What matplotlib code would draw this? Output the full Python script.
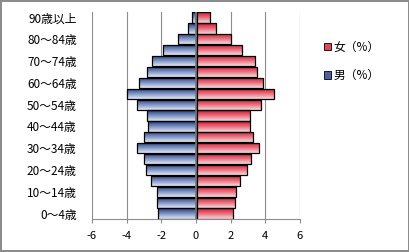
import numpy as np
import matplotlib
matplotlib.use("Agg")
import matplotlib.pyplot as plt
from matplotlib.colors import LinearSegmentedColormap
from matplotlib.patches import Patch

plt.rcParams["font.family"] = ["Noto Sans CJK JP", "DejaVu Sans"]

# age groups, bottom to top
ages = ["0～4歳", "5～9歳", "10～14歳", "15～19歳", "20～24歳", "25～29歳",
        "30～34歳", "35～39歳", "40～44歳", "45～49歳", "50～54歳", "55～59歳",
        "60～64歳", "65～69歳", "70～74歳", "75～79歳", "80～84歳", "85～89歳",
        "90歳以上"]
male = [-2.17, -2.27, -2.27, -2.58, -2.90, -2.98, -3.38, -2.98, -2.75, -2.85,
        -3.38, -3.98, -3.27, -2.85, -2.52, -1.88, -1.02, -0.44, -0.21]
female = [2.10, 2.21, 2.27, 2.50, 2.90, 3.13, 3.60, 3.25, 3.08, 3.08,
          3.73, 4.46, 3.83, 3.50, 3.37, 2.62, 1.98, 1.12, 0.77]
xticks = [-6, -4, -2, 0, 2, 4, 6]

blue_cm = LinearSegmentedColormap.from_list("b", ["#e4e9f3", "#7d93c2", "#1f3a7c"])
red_cm = LinearSegmentedColormap.from_list("r", ["#f3dde1", "#e8707e", "#d8132e"])

fig = plt.figure(figsize=(4.10, 2.52), dpi=100)
fig.patch.set_edgecolor("#8c8c8c")
fig.patch.set_linewidth(1.5)
ax = fig.add_axes([0.2244, 0.131, 0.5073, 0.821])

y = np.arange(len(ages))
grad = np.linspace(0, 1, 64).reshape(-1, 1)


def gradient_bars(vals, cmap, offset):
    bars = ax.barh(y, vals, height=0.94, left=offset, color="none",
                   edgecolor="black", linewidth=0.9, zorder=3)
    for b in bars:
        x0, y0 = b.get_x(), b.get_y()
        w, h = b.get_width(), b.get_height()
        im = ax.imshow(grad, cmap=cmap, aspect="auto", origin="lower",
                       extent=(x0, x0 + w, y0, y0 + h), zorder=2,
                       interpolation="bilinear")
        im.set_clip_path(b)
    return bars


gradient_bars(male, blue_cm, 0)
gradient_bars(female, red_cm, 0.04)

ax.set_xlim(-6, 6)
ax.set_ylim(-0.5, len(ages) - 0.5)
ax.set_xticks(xticks)
ax.set_xticklabels([str(t) for t in xticks], fontsize=8)
ax.set_yticks(y[::2])
ax.set_yticklabels(ages[::2], fontsize=8.5)
ax.tick_params(axis="y", length=0, pad=11)
ax.tick_params(axis="x", length=3, color="#8c8c8c", direction="out", pad=6)
ax.grid(axis="x", color="#8c8c8c", linewidth=0.8, zorder=0)
ax.axvline(0, color="#7a7a7a", linewidth=1.2, zorder=4)
for s in ["top", "right", "left"]:
    ax.spines[s].set_visible(False)
ax.spines["bottom"].set_color("#8c8c8c")

# legend, women first
handles = [Patch(facecolor="#e0485a", edgecolor="black", linewidth=0.6),
           Patch(facecolor="#4a62a0", edgecolor="black", linewidth=0.6)]
fig.legend(handles, ["女（%）", "男（%）"], loc="upper left",
           bbox_to_anchor=(0.765, 0.88), frameon=False, fontsize=8.5,
           handlelength=0.6, handleheight=0.6, handletextpad=0.2,
           labelspacing=1.3)

fig.savefig("out.png", dpi=100)
